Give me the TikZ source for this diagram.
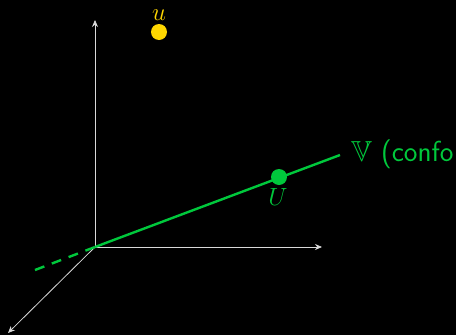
\documentclass[tikz,border=0pt]{standalone}
\usepackage{amssymb}
\usetikzlibrary{arrows.meta}
\definecolor{vgreen}{RGB}{0,200,60}
\definecolor{uyellow}{RGB}{255,215,0}
\begin{document}
\begin{tikzpicture}[x=1pt,y=-1pt,
  axis/.style={draw=white!85!black,line width=0.8pt,-{Stealth[length=7pt,width=6pt]}},
  gline/.style={draw=vgreen,line width=2.4pt},
  dot/.style={circle,inner sep=0pt,minimum size=16pt},
  lbl/.style={font=\fontsize{27}{32}\selectfont,inner sep=0pt}]
\fill[black] (0,0) rectangle (456,335);
\useasboundingbox (0,0) rectangle (456,335);
\coordinate (O) at (95,247);
\coordinate (Z) at (95,20);
\coordinate (X) at (322,247);
\coordinate (Y) at (8,333);
\coordinate (L) at (340,155);
\coordinate (D) at (35,270);
\draw[axis] (O) -- (Z);
\draw[axis] (O) -- (X);
\draw[axis] (O) -- (Y);
\draw[gline,dash pattern=on 10pt off 8pt] (D) -- (O);
\draw[gline] (O) -- (L);
\node[dot,fill=uyellow] (u) at (159,32) {};
\node[lbl,text=uyellow,anchor=south] (ul) at (159,21) {$u$};
\node[dot,fill=vgreen] (U) at (279,177) {};
\node[lbl,text=vgreen,anchor=north] (Ul) at (278,188) {$U$};
\node[lbl,text=vgreen,anchor=west,font=\fontsize{29}{34}\selectfont\sffamily] (V) at (351,154) {$\mathbb{V}$ (confo};
\end{tikzpicture}
\end{document}
